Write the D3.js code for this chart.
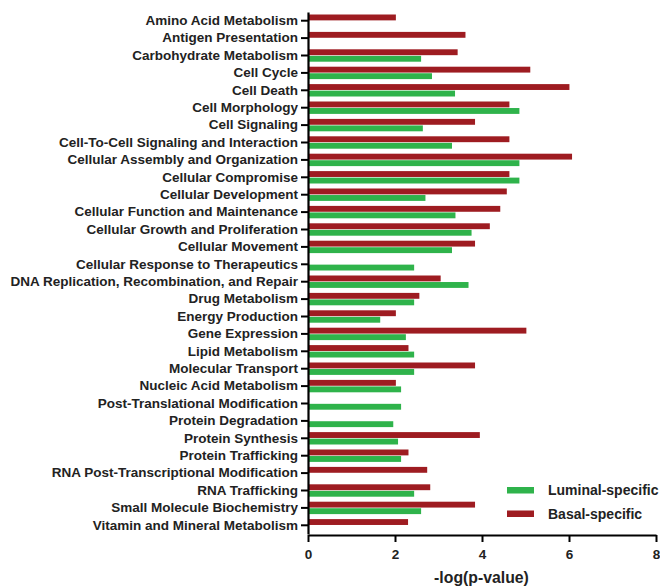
<!DOCTYPE html>
<html lang="en">
<head>
    <meta charset="UTF-8">
    <title>-log(p-value) by Function</title>
    <script src="https://d3js.org/d3.v7.min.js"></script>
    <style>
        body { margin: 0; background: #fff; }
        text { font-family: "Liberation Sans", Arial, sans-serif; font-weight: bold; }
    </style>
</head>
<body>
    <svg id="chart"></svg>
    <script>
        // categories, top to bottom
        var categories = [
            "Amino Acid Metabolism", "Antigen Presentation", "Carbohydrate Metabolism",
            "Cell Cycle", "Cell Death", "Cell Morphology", "Cell Signaling",
            "Cell-To-Cell Signaling and Interaction", "Cellular Assembly and Organization",
            "Cellular Compromise", "Cellular Development", "Cellular Function and Maintenance",
            "Cellular Growth and Proliferation", "Cellular Movement",
            "Cellular Response to Therapeutics", "DNA Replication, Recombination, and Repair",
            "Drug Metabolism", "Energy Production", "Gene Expression", "Lipid Metabolism",
            "Molecular Transport", "Nucleic Acid Metabolism", "Post-Translational Modification",
            "Protein Degradation", "Protein Synthesis", "Protein Trafficking",
            "RNA Post-Transcriptional Modification", "RNA Trafficking",
            "Small Molecule Biochemistry", "Vitamin and Mineral Metabolism"
        ];
        // null = no bar
        var basal = [2.02, 3.62, 3.44, 5.11, 6.01, 4.63, 3.84, 4.63, 6.07, 4.63,
                     4.57, 4.42, 4.18, 3.84, null, 3.05, 2.56, 2.02, 5.02, 2.31,
                     3.84, 2.02, null, null, 3.95, 2.31, 2.74, 2.81, 3.84, 2.30];
        var luminal = [null, null, 2.60, 2.85, 3.38, 4.86, 2.64, 3.31, 4.86, 4.86,
                       2.70, 3.39, 3.76, 3.31, 2.44, 3.69, 2.44, 1.66, 2.25, 2.44,
                       2.44, 2.14, 2.14, 1.96, 2.07, 2.14, null, 2.44, 2.60, null];
        var xTicks = [0, 2, 4, 6, 8];

        var W = 660, H = 586;
        var plotLeft = 308, plotRight = 656, plotTop = 12, plotBottom = 534;

        var svg = d3.select("#chart").attr("width", W).attr("height", H);

        var x = d3.scaleLinear().domain([0, 8]).range([plotLeft, plotRight]);
        var y = d3.scaleBand().domain(categories).range([plotTop, plotBottom]);

        var half = 6.2;
        var sub = d3.scaleBand().domain(["basal", "luminal"])
            .range([y.bandwidth() / 2 - half, y.bandwidth() / 2 + half])
            .paddingInner(0.1);

        var series = [
            { key: "luminal", name: "Luminal-specific", color: "#2fb34b", values: luminal },
            { key: "basal", name: "Basal-specific", color: "#9e1c21", values: basal }
        ];

        series.forEach(function(s) {
            var rows = categories.map((c, i) => ({ cat: c, v: s.values[i] }))
                .filter(d => d.v != null);
            svg.append("g").selectAll("rect")
                .data(rows)
                .enter().append("rect")
                .attr("x", x(0))
                .attr("y", d => y(d.cat) + sub(s.key))
                .attr("width", d => x(d.v) - x(0))
                .attr("height", sub.bandwidth())
                .attr("fill", s.color);
        });

        // y axis
        var yAxis = svg.append("g")
            .attr("transform", "translate(" + plotLeft + ",0)")
            .call(d3.axisLeft(y).tickSize(7).tickPadding(3).tickSizeOuter(0));
        yAxis.select(".domain").attr("stroke-width", 2.2);
        yAxis.selectAll(".tick line").attr("stroke-width", 2);
        yAxis.selectAll("text").attr("font-size", 13.5).attr("fill", "#222");

        // x axis
        var xAxis = svg.append("g")
            .attr("transform", "translate(0," + (plotBottom + 1) + ")")
            .call(d3.axisBottom(x).tickValues(xTicks).tickSize(7).tickPadding(7).tickSizeOuter(0));
        xAxis.select(".domain").attr("stroke-width", 2.2);
        xAxis.selectAll(".tick line").attr("stroke-width", 2);
        xAxis.selectAll("text").attr("font-size", 13.5).attr("fill", "#222");

        svg.append("text")
            .attr("x", (plotLeft + plotRight) / 2 - 0.5)
            .attr("y", 582.5)
            .attr("text-anchor", "middle")
            .attr("font-size", 15.8)
            .attr("fill", "#222")
            .text("-log(p-value)");

        // legend
        var legend = svg.append("g").attr("transform", "translate(507,487)");
        series.forEach(function(s, i) {
            var g = legend.append("g").attr("transform", "translate(0," + (i * 23.5) + ")");
            g.append("rect").attr("width", 27).attr("height", 6.5).attr("fill", s.color);
            g.append("text")
                .attr("x", 41).attr("y", 3.5)
                .attr("dy", "0.35em")
                .attr("font-size", 14)
                .attr("fill", "#222")
                .text(s.name);
        });
    </script>
</body>
</html>
